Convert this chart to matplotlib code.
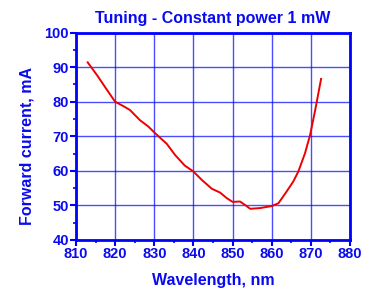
import matplotlib
matplotlib.use("Agg")
import matplotlib.pyplot as plt
from matplotlib.ticker import MultipleLocator

wavelength = [813.0, 815.5, 818.0, 820.0, 822.0, 823.8, 826.3, 828.5, 830.2, 833.2, 835.3,
              837.8, 840.0, 842.1, 844.7, 846.8, 848.5, 850.0, 851.9, 853.2, 854.5,
              857.0, 860.0, 861.7, 863.8, 865.5, 866.8, 868.5, 869.8, 871.1, 872.6]
current = [91.4, 87.5, 83.3, 80.0, 78.8, 77.6, 74.7, 72.8, 70.9, 67.8, 64.6,
           61.5, 59.8, 57.4, 54.8, 53.7, 52.1, 51.0, 51.1, 50.1, 49.0,
           49.2, 49.8, 50.6, 54.0, 56.9, 59.8, 65.1, 70.4, 77.6, 86.6]

title = "Tuning - Constant power 1 mW"
xlabel = "Wavelength, nm"
ylabel = "Forward current, mA"

blue = "#0000ff"
txt = "#0a0af0"
plt.rcParams['font.family'] = ['Liberation Sans', 'DejaVu Sans']
plt.rcParams['font.weight'] = 'bold'

fig = plt.figure(figsize=(3.76, 2.89), dpi=100)
ax = fig.add_axes([0.202, 0.170, 0.729, 0.717])
ax.plot(wavelength, current, color="#ee0000", lw=1.4, zorder=3)
ax.set_xlim(810, 880)
ax.set_ylim(40, 100)
ax.xaxis.set_major_locator(MultipleLocator(10))
ax.xaxis.set_minor_locator(MultipleLocator(5))
ax.yaxis.set_major_locator(MultipleLocator(10))
ax.yaxis.set_minor_locator(MultipleLocator(5))
ax.grid(True, which='major', color=blue, lw=1.0, alpha=0.7)
for s in ax.spines.values():
    s.set_color(blue)
    s.set_linewidth(2)
ax.tick_params(which='major', direction='out', length=4, width=1.5, color=blue,
               labelcolor=txt, labelsize=10.5, pad=1)
ax.tick_params(which='minor', direction='out', length=2.5, width=1.2, color=blue)
ax.tick_params(top=False, right=False, which='both')
for lab in ax.get_xticklabels() + ax.get_yticklabels():
    lab.set_fontweight('bold')
ax.set_title(title, color=txt, fontsize=11.5, fontweight='bold', pad=7)
ax.set_xlabel(xlabel, color=txt, fontsize=11.5, fontweight='bold', labelpad=9)
ax.set_ylabel(ylabel, color=txt, fontsize=11.5, fontweight='bold')
ax.yaxis.set_label_coords(-0.15, 0.452)
fig.savefig("out.png", dpi=100)
